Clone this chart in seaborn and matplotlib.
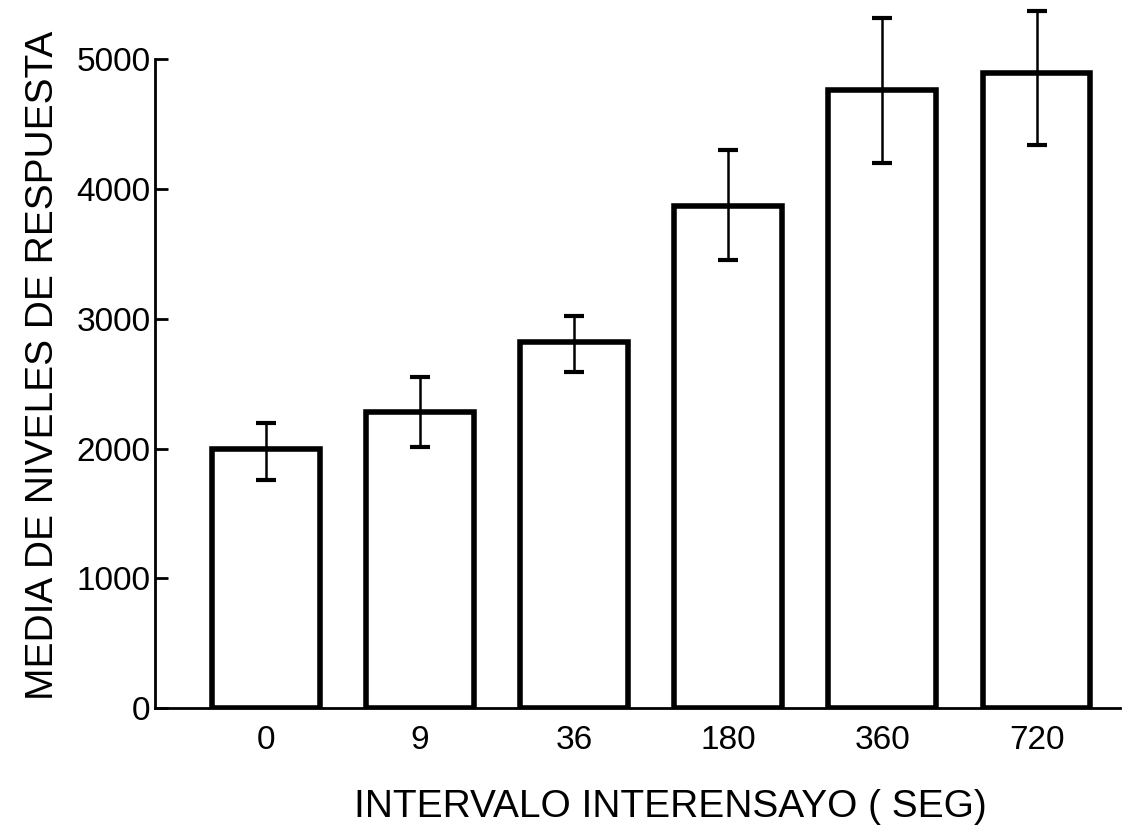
import matplotlib
matplotlib.use("Agg")
import matplotlib.pyplot as plt
import seaborn as sns
import pandas as pd

# Mean response levels by inter-trial interval, with error bars
intervals = ["0", "9", "36", "180", "360", "720"]
means = [2000, 2280, 2820, 3870, 4760, 4890]
err_low = [240, 270, 230, 420, 560, 550]
err_high = [200, 270, 200, 430, 560, 480]
y_ticks = [0, 1000, 2000, 3000, 4000, 5000]

sns.set_theme(style="white")
plt.rcParams["font.family"] = ["Liberation Sans", "DejaVu Sans"]

df = pd.DataFrame({"intervalo": intervals, "media": means})

fig = plt.figure(figsize=(11.22, 8.4), dpi=100)
ax = fig.add_axes([0.138, 0.157, 0.860, 0.7726])

sns.barplot(data=df, x="intervalo", y="media", order=intervals, ax=ax,
            color="white", edgecolor="black", linewidth=4.0, width=0.7,
            saturation=1, errorbar=None)

ax.errorbar(range(len(intervals)), means, yerr=[err_low, err_high],
            fmt="none", ecolor="black", elinewidth=1.8, capsize=7,
            capthick=3, clip_on=False, zorder=5)

ax.set_ylim(0, 5000)
ax.set_xlim(-0.72, 5.54)
ax.set_yticks(y_ticks)
ax.set_yticklabels([str(t) for t in y_ticks])

for side in ("top", "right"):
    ax.spines[side].set_visible(False)
for side in ("left", "bottom"):
    ax.spines[side].set_color("black")
    ax.spines[side].set_linewidth(2.0)

ax.tick_params(axis="y", direction="in", length=9, width=2, color="black",
               labelsize=24, pad=3, left=True)
ax.tick_params(axis="x", length=0, labelsize=24, pad=12)
for lab in ax.get_xticklabels() + ax.get_yticklabels():
    lab.set_color("black")

ax.set_xlabel("INTERVALO INTERENSAYO ( SEG)", fontsize=28, color="black")
ax.set_ylabel("MEDIA DE NIVELES DE RESPUESTA", fontsize=28, color="black")
ax.yaxis.set_label_coords(-0.097, 0.528)
ax.xaxis.set_label_coords(0.534, -0.125)

fig.savefig("out.png", dpi=100, facecolor="white")
